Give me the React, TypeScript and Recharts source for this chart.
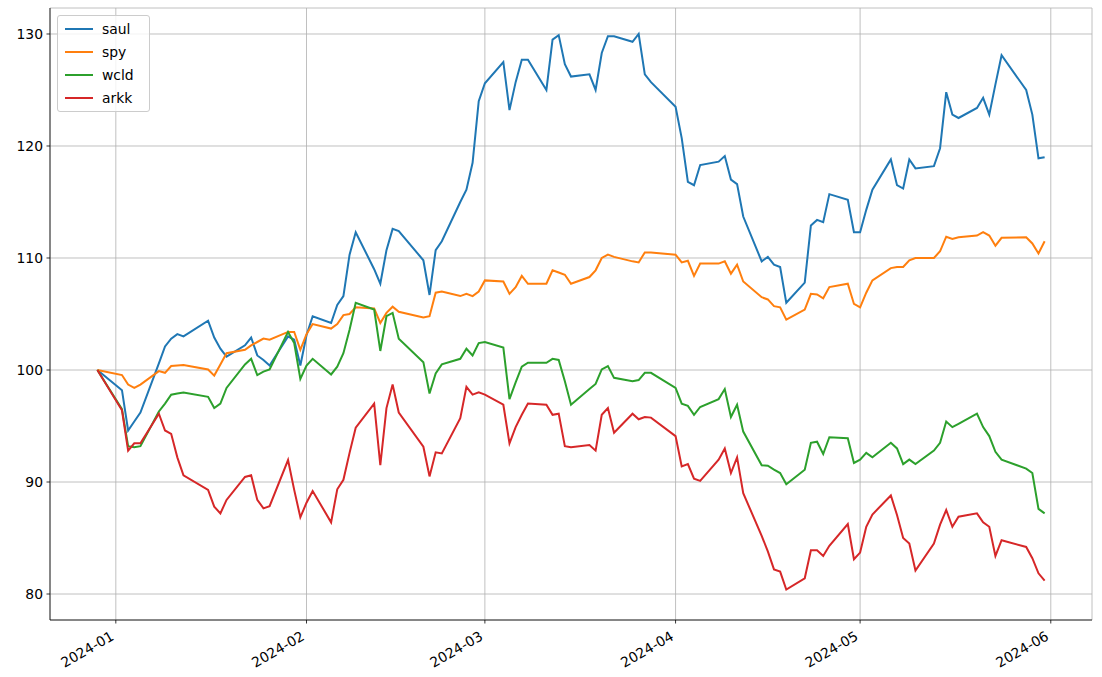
import { LineChart, Line, XAxis, YAxis, CartesianGrid, Legend } from "recharts";

// trading days, Dec 29 2023 .. May 31 2024
const dates = [
  "2023-12-29",
  "2024-01-02", "2024-01-03", "2024-01-04", "2024-01-05",
  "2024-01-08", "2024-01-09", "2024-01-10", "2024-01-11", "2024-01-12",
  "2024-01-16", "2024-01-17", "2024-01-18", "2024-01-19",
  "2024-01-22", "2024-01-23", "2024-01-24", "2024-01-25", "2024-01-26",
  "2024-01-29", "2024-01-30", "2024-01-31", "2024-02-01", "2024-02-02",
  "2024-02-05", "2024-02-06", "2024-02-07", "2024-02-08", "2024-02-09",
  "2024-02-12", "2024-02-13", "2024-02-14", "2024-02-15", "2024-02-16",
  "2024-02-20", "2024-02-21", "2024-02-22", "2024-02-23",
  "2024-02-26", "2024-02-27", "2024-02-28", "2024-02-29", "2024-03-01",
  "2024-03-04", "2024-03-05", "2024-03-06", "2024-03-07", "2024-03-08",
  "2024-03-11", "2024-03-12", "2024-03-13", "2024-03-14", "2024-03-15",
  "2024-03-18", "2024-03-19", "2024-03-20", "2024-03-21", "2024-03-22",
  "2024-03-25", "2024-03-26", "2024-03-27", "2024-03-28",
  "2024-04-01", "2024-04-02", "2024-04-03", "2024-04-04", "2024-04-05",
  "2024-04-08", "2024-04-09", "2024-04-10", "2024-04-11", "2024-04-12",
  "2024-04-15", "2024-04-16", "2024-04-17", "2024-04-18", "2024-04-19",
  "2024-04-22", "2024-04-23", "2024-04-24", "2024-04-25", "2024-04-26",
  "2024-04-29", "2024-04-30", "2024-05-01", "2024-05-02", "2024-05-03",
  "2024-05-06", "2024-05-07", "2024-05-08", "2024-05-09", "2024-05-10",
  "2024-05-13", "2024-05-14", "2024-05-15", "2024-05-16", "2024-05-17",
  "2024-05-20", "2024-05-21", "2024-05-22", "2024-05-23", "2024-05-24",
  "2024-05-28", "2024-05-29", "2024-05-30", "2024-05-31",
];

const saul = [
  100.0,
  98.2, 94.6, 95.4, 96.2,
  100.6, 102.1, 102.8, 103.2, 103.0,
  104.4, 102.9, 101.9, 101.2,
  102.2, 102.9, 101.3, 100.9, 100.4,
  103.0, 102.7, 100.4, 103.1, 104.8,
  104.2, 105.8, 106.6, 110.3, 112.3,
  109.0, 107.7, 110.7, 112.6, 112.4,
  109.8, 106.7, 110.7, 111.5,
  115.0, 116.1, 118.5, 124.0, 125.6,
  127.5, 123.2, 125.7, 127.7, 127.7,
  125.0, 129.5, 129.9, 127.3, 126.2,
  126.4, 125.0, 128.3, 129.8, 129.8,
  129.3, 130.0, 126.4, 125.7,
  123.5, 120.7, 116.8, 116.5, 118.3,
  118.6, 119.1, 117.0, 116.6, 113.7,
  109.7, 110.1, 109.4, 109.2, 106.0,
  107.8, 112.9, 113.4, 113.2, 115.7,
  115.2, 112.3, 112.3, 114.3, 116.1,
  118.8, 116.5, 116.2, 118.8, 118.0,
  118.2, 119.8, 124.8, 122.8, 122.5,
  123.4, 124.3, 122.8, 125.5, 128.1,
  125.0, 122.8, 118.9, 119.0,
];

const spy = [
  100.0,
  99.55, 98.7, 98.4, 98.7,
  99.9, 99.75, 100.35, 100.4, 100.45,
  100.05, 99.5, 100.5, 101.5,
  101.8, 102.2, 102.5, 102.8, 102.7,
  103.4, 103.4, 101.8, 103.2, 104.1,
  103.7, 104.1, 104.9, 105.0, 105.6,
  105.5, 104.2, 105.1, 105.65, 105.2,
  104.7, 104.8, 106.9, 107.0,
  106.6, 106.8, 106.6, 107.0, 108.0,
  107.9, 106.8, 107.4, 108.4, 107.7,
  107.7, 108.9, 108.7, 108.5, 107.7,
  108.3, 108.9, 110.0, 110.3, 110.1,
  109.7, 109.6, 110.5, 110.5,
  110.3, 109.6, 109.75, 108.4, 109.5,
  109.5, 109.7, 108.6, 109.4, 107.9,
  106.5, 106.3, 105.7, 105.6, 104.5,
  105.4, 106.8, 106.75, 106.4, 107.4,
  107.7, 105.9, 105.6, 106.9, 108.0,
  109.1, 109.2, 109.2, 109.8, 110.0,
  110.0, 110.6, 111.9, 111.7, 111.85,
  112.0, 112.3, 112.0, 111.1, 111.8,
  111.85, 111.3, 110.4, 111.5,
];

const wcld = [
  100.0,
  96.5, 93.2, 93.1, 93.2,
  96.3, 97.0, 97.8, 97.9, 98.0,
  97.6, 96.6, 97.0, 98.4,
  100.5, 101.0, 99.55, 99.85, 100.05,
  103.4, 102.4, 99.2, 100.4, 101.0,
  99.6, 100.3, 101.5, 103.6, 106.0,
  105.4, 101.7, 104.8, 105.1, 102.8,
  100.7, 97.9, 99.7, 100.5,
  101.0, 101.9, 101.3, 102.4, 102.5,
  102.0, 97.4, 98.9, 100.3, 100.65,
  100.65, 101.0, 100.9, 99.0, 96.9,
  98.3, 98.75, 100.05, 100.35, 99.3,
  99.0, 99.1, 99.75, 99.75,
  98.4, 97.0, 96.8, 96.0, 96.7,
  97.4, 98.3, 95.8, 96.9, 94.5,
  91.5, 91.45, 91.1, 90.8, 89.8,
  91.1, 93.5, 93.6, 92.5, 94.0,
  93.9, 91.7, 92.0, 92.6, 92.2,
  93.5, 93.0, 91.6, 92.0, 91.6,
  92.8, 93.5, 95.4, 94.9, 95.2,
  96.1, 94.9, 94.1, 92.7, 92.0,
  91.2, 90.8, 87.6, 87.2,
];

const arkk = [
  100.0,
  96.4, 92.8, 93.45, 93.45,
  96.1, 94.6, 94.3, 92.2, 90.6,
  89.3, 87.8, 87.2, 88.4,
  90.45, 90.6, 88.4, 87.65, 87.85,
  91.96, 89.3, 86.85, 88.15, 89.2,
  86.4, 89.35, 90.2, 92.6, 94.85,
  97.0, 91.5, 96.6, 98.7, 96.2,
  93.15, 90.5, 92.65, 92.55,
  95.7, 98.5, 97.8, 98.0, 97.8,
  96.9, 93.45, 94.9, 96.0, 97.0,
  96.9, 96.0, 96.1, 93.2, 93.1,
  93.3, 92.8, 96.0, 96.6, 94.4,
  96.1, 95.6, 95.8, 95.75,
  94.1, 91.4, 91.6, 90.3, 90.1,
  92.0, 93.0, 90.8, 92.2, 89.0,
  85.2, 83.8, 82.2, 82.0, 80.4,
  81.4, 83.9, 83.9, 83.4, 84.3,
  86.25, 83.1, 83.7, 86.0, 87.1,
  88.8, 87.05, 85.0, 84.5, 82.1,
  84.5, 86.2, 87.5, 86.0, 86.9,
  87.2, 86.4, 86.0, 83.4, 84.8,
  84.2, 83.2, 81.85, 81.2,
];

const tickDates = ["2024-01-01", "2024-02-01", "2024-03-01", "2024-04-01", "2024-05-01", "2024-06-01"];
const yTicks = [80, 90, 100, 110, 120, 130];
const yDomain = [77.68, 132.32];

const seriesList = [
  { key: "saul", color: "#1f77b4" },
  { key: "spy", color: "#ff7f0e" },
  { key: "wcld", color: "#2ca02c" },
  { key: "arkk", color: "#d62728" },
];

const FONT = "DejaVu Sans, sans-serif";
const FS = 13.9;

const toTs = (d: string) => {
  const [y, m, dd] = d.split("-").map(Number);
  return Date.UTC(y, m - 1, dd);
};

const rows = dates.map((d, i) => ({
  t: toTs(d),
  saul: saul[i],
  spy: spy[i],
  wcld: wcld[i],
  arkk: arkk[i],
}));

const xTicks = tickDates.map(toTs);
const tMin = rows[0].t;
const tMax = rows[rows.length - 1].t;
const tPad = (tMax - tMin) * 0.05;
const xDomain = [tMin - tPad, tMax + tPad];

const fmtMonth = (t: number) => {
  const d = new Date(t);
  return `${d.getUTCFullYear()}-${String(d.getUTCMonth() + 1).padStart(2, "0")}`;
};

// rotated date labels, right end pinned under the tick like autofmt_xdate
const XTick = (props: any) => {
  const { x, y, payload } = props;
  const ax = x - 1;
  const ay = y + 12;
  return (
    <text
      x={ax}
      y={ay}
      transform={`rotate(-30, ${ax}, ${ay})`}
      textAnchor="end"
      fontFamily={FONT}
      fontSize={FS}
      fill="#000"
    >
      {fmtMonth(payload.value)}
    </text>
  );
};

const LegendBox = () => (
  <div
    style={{
      boxSizing: "border-box",
      width: 93,
      border: "1px solid #cccccc",
      borderRadius: 3,
      background: "rgba(255,255,255,0.8)",
      padding: "5px 6px 5px 7px",
      fontFamily: FONT,
      fontSize: FS,
      color: "#000",
    }}
  >
    {seriesList.map((s, i) => (
      <div
        key={s.key}
        style={{ display: "flex", alignItems: "center", height: 16, marginTop: i === 0 ? 0 : 7 }}
      >
        <div style={{ width: 28, height: 2, background: s.color, marginRight: 9 }} />
        <span style={{ lineHeight: "16px" }}>{s.key}</span>
      </div>
    ))}
  </div>
);

export default function App() {
  return (
    <div style={{ position: "absolute", left: 0, top: 0, width: 1102, height: 677, background: "#fff" }}>
      <LineChart width={1102} height={677} data={rows} margin={{ top: 8, right: 10, bottom: 0, left: 0 }}>
        <CartesianGrid stroke="#b0b0b0" strokeWidth={0.8} />
        <XAxis
          dataKey="t"
          type="number"
          scale="time"
          domain={xDomain}
          ticks={xTicks}
          allowDataOverflow
          tick={<XTick />}
          tickSize={3.5}
          tickMargin={3.5}
          height={57}
          axisLine={{ stroke: "#000", strokeWidth: 0.8 }}
          tickLine={{ stroke: "#000", strokeWidth: 0.8 }}
          interval={0}
        />
        <XAxis
          xAxisId="top"
          orientation="top"
          dataKey="t"
          type="number"
          domain={xDomain}
          tick={false}
          tickLine={false}
          height={0}
          axisLine={{ stroke: "#000", strokeWidth: 0.8 }}
        />
        <YAxis
          type="number"
          domain={yDomain}
          ticks={yTicks}
          allowDataOverflow
          width={50}
          tickSize={3.5}
          tickMargin={3.5}
          tick={{ fontFamily: FONT, fontSize: FS, fill: "#000" }}
          axisLine={{ stroke: "#000", strokeWidth: 0.8 }}
          tickLine={{ stroke: "#000", strokeWidth: 0.8 }}
          interval={0}
        />
        <YAxis
          yAxisId="right"
          orientation="right"
          type="number"
          domain={yDomain}
          tick={false}
          tickLine={false}
          width={0}
          axisLine={{ stroke: "#000", strokeWidth: 0.8 }}
        />
        <Legend
          layout="vertical"
          align="center"
          verticalAlign="middle"
          content={<LegendBox />}
          wrapperStyle={{ position: "absolute", left: 57, top: 15, width: "auto", height: "auto" }}
        />
        {seriesList.map((s) => (
          <Line
            key={s.key}
            dataKey={s.key}
            name={s.key}
            stroke={s.color}
            strokeWidth={2}
            dot={false}
            activeDot={false}
            isAnimationActive={false}
          />
        ))}
      </LineChart>
    </div>
  );
}
